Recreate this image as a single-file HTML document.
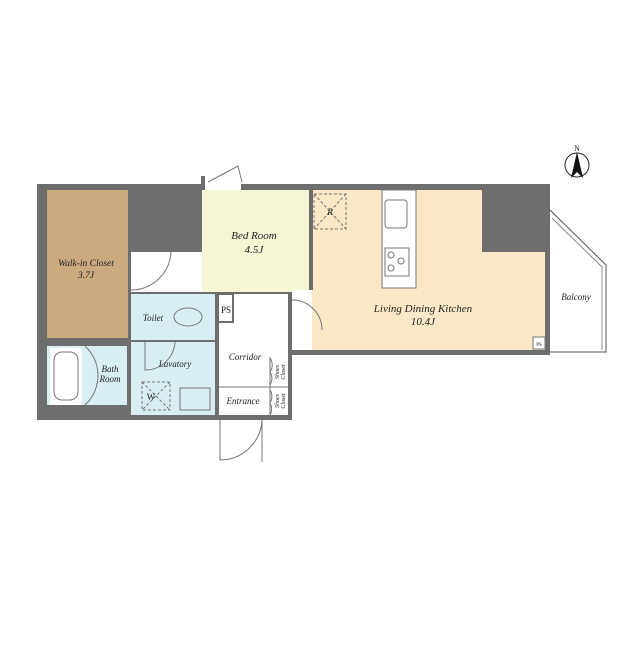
<!DOCTYPE html>
<html><head><style>
body{margin:0;background:#fff}
svg text{font-family:"Liberation Serif",serif;font-style:italic;fill:#222}
</style></head><body>
<svg width="640" height="640" viewBox="0 0 640 640" xmlns="http://www.w3.org/2000/svg">
<!-- walls base -->
<rect x="37" y="184" width="255" height="236" fill="#6e6e6e"/>
<rect x="289" y="184" width="261" height="171" fill="#6e6e6e"/>
<!-- rooms -->
<rect x="47" y="190" width="81" height="148" fill="#c9ab7e"/>
<rect x="131" y="252" width="71" height="40" fill="#fff"/>
<rect x="202" y="190" width="107" height="102" fill="#f6f5d6"/>
<rect x="313" y="190" width="232" height="100" fill="#fbe8c9"/>
<rect x="292" y="290" width="253" height="60" fill="#fbe8c9"/>
<rect x="482" y="190" width="63" height="62" fill="#6e6e6e"/>
<rect x="131" y="294" width="84" height="46" fill="#d8eef3"/>
<rect x="219" y="294" width="69" height="121" fill="#fff"/>
<rect x="218" y="294" width="15" height="28" fill="#fff" stroke="#6e6e6e" stroke-width="2"/>
<rect x="47" y="346" width="80" height="59" fill="#d8eef3"/>
<rect x="50" y="348" width="32" height="57" fill="#fff"/>
<rect x="131" y="342" width="84" height="73" fill="#d8eef3"/>
<rect x="292" y="290" width="20" height="60" fill="#fff"/>
<!-- inner lines -->
<g stroke="#777" fill="none" stroke-width="1">
<line x1="219" y1="387" x2="288" y2="387"/>
<line x1="270" y1="357" x2="270" y2="415"/>
<rect x="54" y="352" width="24" height="48" rx="8"/>
<rect x="142" y="382" width="28" height="28" stroke-dasharray="3,2"/>
<line x1="142" y1="382" x2="170" y2="410" stroke-dasharray="3,2"/>
<line x1="170" y1="382" x2="142" y2="410" stroke-dasharray="3,2"/>
<rect x="180" y="388" width="30" height="22"/>
<rect x="314" y="194" width="32" height="35" stroke-dasharray="3,2"/>
<line x1="314" y1="194" x2="346" y2="229" stroke-dasharray="3,2"/>
<line x1="346" y1="194" x2="314" y2="229" stroke-dasharray="3,2"/>
<rect x="382" y="190" width="34" height="98" fill="#fff"/>
<rect x="385" y="200" width="22" height="28" rx="3"/>
<rect x="385" y="248" width="24" height="28"/>
<circle cx="391" cy="255" r="3"/><circle cx="391" cy="268" r="3"/><circle cx="401" cy="261" r="3"/>
<path d="M550 210 L606 265 L606 352 L550 352" stroke="#555"/>
<path d="M552 218 L602 267 L602 350" stroke="#888"/>
<path d="M131 290 A40 40 0 0 0 171 252"/>
<path d="M292 300 A30 30 0 0 1 322 330"/>
<ellipse cx="188" cy="317" rx="14" ry="9"/>
<path d="M220 420 L220 460 A42 42 0 0 0 262 420"/>
<line x1="262" y1="420" x2="262" y2="462"/>
<path d="M208 182 L238 166 L242 182"/>
<rect x="533" y="337" width="12" height="12" fill="#fff"/>
<path d="M270 372 A12 12 0 0 0 270 358 M270 385 A12 12 0 0 0 270 372 M270 403 A12 12 0 0 0 270 390 M270 415 A12 12 0 0 0 270 403"/>
<path d="M85 346 A40 40 0 0 1 85 405"/>
<path d="M145 342 L145 370 A30 30 0 0 0 175 342"/>
<circle cx="577" cy="165" r="12" stroke="#222"/>
</g>
<rect x="201" y="176" width="4" height="10" fill="#6e6e6e"/>
<rect x="205" y="184" width="36" height="6" fill="#fff"/>
<polygon points="577,152 571,178 577,172 583,178" fill="#111"/>
<text x="577" y="151" font-size="8" text-anchor="middle" style="font-style:normal">N</text>
<g font-size="11" text-anchor="middle">
<text x="86" y="266" font-size="9.5">Walk-in Closet</text>
<text x="86" y="278" font-size="9.5">3.7J</text>
<text x="254" y="239">Bed Room</text>
<text x="254" y="253">4.5J</text>
<text x="423" y="312">Living Dining Kitchen</text>
<text x="423" y="325">10.4J</text>
<text x="576" y="300" font-size="9">Balcony</text>
<text x="153" y="321" font-size="9">Toilet</text>
<text x="226" y="313" font-size="9" style="font-style:normal">PS</text>
<text x="110" y="372" font-size="9">Bath</text>
<text x="110" y="382" font-size="9">Room</text>
<text x="175" y="367" font-size="9">Lavatory</text>
<text x="151" y="400" font-size="9" style="font-style:normal">W</text>
<text x="245" y="360" font-size="9">Corridor</text>
<text x="243" y="404" font-size="9">Entrance</text>
<text x="330" y="215" font-size="9">R</text>
<text x="539" y="346" font-size="5" style="font-style:normal">PS</text>
</g>
<g font-size="6" text-anchor="middle">
<text transform="translate(279,372) rotate(-90)">Shoes</text>
<text transform="translate(285,372) rotate(-90)">Closet</text>
<text transform="translate(279,401) rotate(-90)">Shoes</text>
<text transform="translate(285,401) rotate(-90)">Closet</text>
</g>
</svg>
</body></html>
